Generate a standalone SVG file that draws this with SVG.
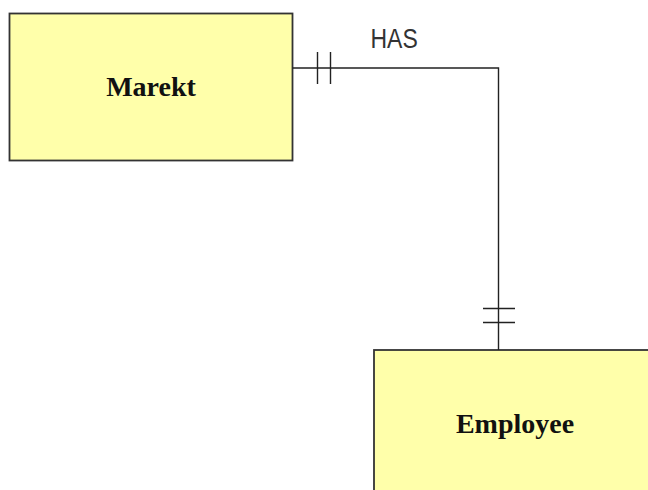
<svg xmlns="http://www.w3.org/2000/svg" width="648" height="490" viewBox="0 0 648 490">
<style>
.ent{fill:#ffffaa;stroke:#333;stroke-width:1.8}
.lbl{font-family:"Liberation Serif","DejaVu Serif",serif;font-weight:bold;font-size:28px;fill:#111;text-anchor:middle}
.cn{fill:none;stroke:#222;stroke-width:1.4}
.rl{font-family:"Liberation Sans",Arial,sans-serif;font-size:23px;fill:#333}
</style>
<rect width="648" height="490" fill="#fff"/>
<g id="marekt">
<rect class="ent" x="9.5" y="13.5" width="283" height="147"/>
<text class="lbl" x="151" y="96">Marekt</text>
</g>
<g id="employee">
<rect class="ent" x="374" y="350" width="280" height="150"/>
<text class="lbl" x="515" y="433">Employee</text>
</g>
<g id="connectors">
<path class="cn" d="M292.5 68H498.5V350"/>
<path class="cn" d="M317.5 52V84M330.5 52V84M483 308.5H515M483 322.5H515"/>
<text class="rl" transform="translate(370.5 48.3) scale(1 1.18)">HAS</text>
</g>
</svg>
